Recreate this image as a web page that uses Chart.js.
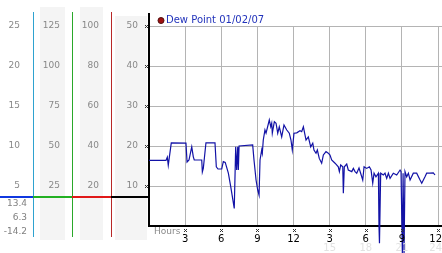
<!DOCTYPE html>
<html lang="en">
<head>
  <meta charset="UTF-8">
  <title>Dew Point</title>
  <script src="https://cdn.jsdelivr.net/npm/chart.js"></script>
  <style>
    html, body { margin: 0; padding: 0; background: #fff; }
  </style>
</head>
<body>

<canvas id="dewChart" width="442" height="253"></canvas>

<script>
  // hour of the day for each reading, and the dew point at that time
  const hours = [0, 1.41, 1.52, 1.60, 1.85, 3.07, 3.16, 3.32, 3.55, 3.68, 3.76, 4.38, 4.43, 4.51, 4.73,
    5.48, 5.59, 5.73, 6.04, 6.17, 6.33, 6.59, 6.79, 7.08, 7.20, 7.28, 7.37, 7.42, 7.48, 8.61, 8.72,
    8.89, 9.03, 9.14, 9.22, 9.36, 9.41, 9.49, 9.63, 9.72, 9.99, 10.11, 10.19, 10.24, 10.41, 10.55,
    10.69, 10.82, 11.02, 11.21, 11.44, 11.65, 11.79, 11.90, 12.04, 12.27, 12.54, 12.68, 12.82, 13.04,
    13.23, 13.43, 13.60, 13.70, 13.87, 13.98, 14.14, 14.34, 14.48, 14.70, 14.89, 15.03, 15.17, 15.45,
    15.72, 15.81, 15.92, 16.09, 16.14, 16.22, 16.42, 16.55, 16.84, 16.97, 17.11, 17.25, 17.44, 17.75,
    17.86, 18.08, 18.30, 18.44, 18.58, 18.69, 18.85, 19.05, 19.10, 19.14, 19.24, 19.46, 19.60, 19.74,
    19.88, 20.02, 20.29, 20.57, 20.85, 20.93, 21.04, 21.10, 21.14, 21.18, 21.26, 21.40, 21.54, 21.68,
    21.95, 22.23, 22.51, 22.65, 22.92, 23.06, 23.34, 23.61, 23.75];
  const dewPoint = [16.4, 16.4, 17.2, 15.2, 20.8, 20.7, 16.0, 16.5, 19.8, 17.3, 16.5, 16.5, 13.5, 14.4, 20.8,
    20.8, 14.8, 14.25, 14.25, 16.1, 15.9, 13.2, 9.8, 4.4, 19.8, 14.0, 19.8, 14.0, 20.0, 20.25, 16.5,
    11.5, 9.0, 7.75, 16.5, 19.0, 18.2, 21.5, 24.0, 23.2, 26.5, 24.8, 25.7, 23.2, 26.1, 25.7,
    23.2, 24.8, 22.3, 25.25, 24.0, 23.2, 21.5, 19.0, 23.2, 23.3, 23.8, 23.6, 24.8, 21.5,
    22.3, 19.8, 20.7, 19.0, 18.2, 19.0, 16.9, 15.7, 17.75, 18.6, 18.2, 17.75, 16.5, 15.7,
    14.8, 13.6, 15.25, 14.8, 8.2, 14.8, 15.5, 14.0, 13.6, 14.4, 13.6, 13.2, 14.5, 11.5,
    14.8, 14.4, 14.8, 14.0, 10.7, 13.2, 12.3, 13.2, -0.2, -4.3, 13.2, 12.75, 13.2, 11.9,
    13.2, 11.9, 13.2, 12.75, 14.0, 13.6, -6.8, 13.2, 13.2, -6.8, 13.6, 12.3, 13.2, 11.5,
    13.2, 13.2, 11.5, 10.7, 12.3, 13.2, 13.2, 13.3, 12.75];

  const seriesLabel = 'Dew Point 01/02/07';
  const hour24Labels = { 15: '15', 18: '18', 21: '21', 24: '24' };
  const statLabels = ['13.4', '6.3', '-14.2'];
  const levelValue = 7.25;

  Chart.defaults.font.family = 'DejaVu Sans';

  const tickFont = { family: 'DejaVu Sans', size: 9 };
  const gridColor = '#b4b4b4';

  function hideZero(v) { return v === 0 ? '' : v; }
  function hour12(v) { return String((v - 1) % 12 + 1); }

  // draw a tiny "x" marker like the original tick glyphs
  function marker(ctx, x, y) {
    ctx.fillStyle = '#333';
    ctx.fillRect(x - 1, y - 1, 1, 1);
    ctx.fillRect(x + 1, y - 1, 1, 1);
    ctx.fillRect(x, y, 1, 1);
    ctx.fillRect(x - 1, y + 1, 1, 1);
    ctx.fillRect(x + 1, y + 1, 1, 1);
  }

  const decor = {
    id: 'decor',
    beforeDraw(chart) {
      const ctx = chart.ctx;
      const s = chart.scales;
      ctx.save();
      ctx.fillStyle = '#fff';
      ctx.fillRect(0, 0, chart.width, chart.height);
      // light grey label columns
      ctx.fillStyle = '#f4f4f4';
      ctx.fillRect(s.yK.left + 7, 7, s.yK.width - 14, 233);
      ctx.fillRect(s.yF.left + 8, 7, s.yF.width - 16, 233);
      ctx.fillRect(s.y.left + 4, 16, s.y.width - 6, 224);
      ctx.restore();
    },
    afterDraw(chart) {
      const ctx = chart.ctx;
      const s = chart.scales;
      const area = chart.chartArea;
      ctx.save();

      // coloured dividers between the unit columns
      ctx.lineWidth = 1;
      [[s.yC, '#2ea2d0'], [s.yK, '#2aa82a'], [s.yF, '#b82828']].forEach(([sc, col]) => {
        ctx.strokeStyle = col;
        ctx.beginPath();
        ctx.moveTo(Math.round(sc.right) + 0.5, 12);
        ctx.lineTo(Math.round(sc.right) + 0.5, 237);
        ctx.stroke();
      });

      // left axis continues above the plot
      ctx.strokeStyle = '#000';
      ctx.lineWidth = 2;
      ctx.beginPath();
      ctx.moveTo(area.left, 13);
      ctx.lineTo(area.left, area.top);
      ctx.stroke();
      // bottom axis and grid reach the edge
      ctx.beginPath();
      ctx.moveTo(area.right, area.bottom);
      ctx.lineTo(chart.width, area.bottom);
      ctx.stroke();
      ctx.strokeStyle = gridColor;
      ctx.lineWidth = 1;
      s.y.ticks.forEach(t => {
        if (t.value === 0) return;
        const py = Math.round(s.y.getPixelForValue(t.value)) + 0.5;
        ctx.beginPath();
        ctx.moveTo(area.right, py);
        ctx.lineTo(chart.width, py);
        ctx.stroke();
      });

      // level bar across the columns
      const ly = Math.round(s.y.getPixelForValue(levelValue));
      [[0, s.yC.right, '#1038e0'], [s.yC.right, s.yK.right, '#22b022'],
       [s.yK.right, s.yF.right, '#e01818'], [s.yF.right, area.left, '#000']].forEach(([a, b, col]) => {
        ctx.fillStyle = col;
        ctx.fillRect(a, ly - 1, b - a, 2);
      });

      // stats under the first column
      ctx.font = '9px "DejaVu Sans"';
      ctx.fillStyle = '#808080';
      ctx.textAlign = 'right';
      ctx.textBaseline = 'middle';
      [204, 218, 232].forEach((py, i) => ctx.fillText(statLabels[i], s.yC.right - 6, py));

      // tick glyphs
      s.y.ticks.forEach(t => {
        if (t.value > 0) marker(ctx, Math.round(area.left) - 3, Math.round(s.y.getPixelForValue(t.value)));
      });
      s.x.ticks.forEach(t => {
        if (t.value > 0) marker(ctx, Math.round(s.x.getPixelForValue(t.value)), area.bottom + 4);
      });

      // "Hours" caption
      ctx.textAlign = 'left';
      ctx.fillStyle = '#8a8a8a';
      ctx.fillText('Hours', area.left + 5, 232);

      // hour labels (12h in black, faint 24h below), kept inside the canvas
      ctx.font = '10px "DejaVu Sans"';
      ctx.textAlign = 'center';
      s.x.ticks.forEach(t => {
        if (t.value === 0) return;
        const lab = hour12(t.value);
        const w = ctx.measureText(lab).width;
        const px = Math.min(s.x.getPixelForValue(t.value), chart.width - w / 2);
        ctx.fillStyle = '#000';
        ctx.fillText(lab, px, 239);
        const lab24 = hour24Labels[t.value];
        if (lab24) {
          const w24 = ctx.measureText(lab24).width;
          ctx.fillStyle = '#e2e2e2';
          ctx.fillText(lab24, Math.min(s.x.getPixelForValue(t.value), chart.width - w24 / 2), 248);
        }
      });

      // legend
      ctx.fillStyle = '#a01010';
      ctx.strokeStyle = '#501010';
      ctx.lineWidth = 1;
      ctx.beginPath();
      ctx.arc(161, 20.5, 3, 0, Math.PI * 2);
      ctx.fill();
      ctx.stroke();
      ctx.fillStyle = '#2233bb';
      ctx.textAlign = 'left';
      ctx.fillText(chart.data.datasets[0].label, 166, 20);
      ctx.restore();
    }
  };

  const ctx = document.getElementById('dewChart').getContext('2d');
  const dewChart = new Chart(ctx, {
    type: 'line',
    data: {
      datasets: [{
        label: seriesLabel,
        data: hours.map((h, i) => ({ x: h, y: dewPoint[i] })),
        borderColor: '#1212a6',
        borderWidth: 1.2,
        pointRadius: 0,
        tension: 0,
        fill: false,
        clip: false
      }]
    },
    options: {
      responsive: false,
      animation: false,
      layout: { padding: { left: 0, top: 26, right: 4, bottom: 0 } },
      plugins: { legend: { display: false }, tooltip: { enabled: false } },
      scales: {
        x: {
          type: 'linear', min: 0, max: 24, position: 'bottom',
          ticks: { stepSize: 3, display: false },
          grid: { color: gridColor, drawTicks: false },
          border: { color: '#000', width: 2 },
          afterFit: sc => { sc.height = 27; sc.paddingLeft = 0; sc.paddingRight = 0; }
        },
        y: {
          min: 0, max: 50, position: 'left', weight: 1,
          ticks: { stepSize: 10, padding: 11, color: '#888', font: tickFont, callback: hideZero },
          grid: { color: gridColor, drawTicks: false },
          border: { color: '#000', width: 2 },
          afterFit: sc => { sc.width = 38; }
        },
        yF: {
          min: 0, max: 100, position: 'left', weight: 2,
          ticks: { stepSize: 20, padding: 12, color: '#888', font: tickFont, callback: hideZero },
          grid: { display: false, drawTicks: false },
          border: { display: false },
          afterFit: sc => { sc.width = 39; }
        },
        yK: {
          min: 0, max: 125, position: 'left', weight: 3,
          ticks: { stepSize: 25, padding: 12, color: '#888', font: tickFont, callback: hideZero },
          grid: { display: false, drawTicks: false },
          border: { display: false },
          afterFit: sc => { sc.width = 39; }
        },
        yC: {
          min: 0, max: 25, position: 'left', weight: 4,
          ticks: { stepSize: 5, padding: 13, color: '#888', font: tickFont, callback: hideZero },
          grid: { display: false, drawTicks: false },
          border: { display: false },
          afterFit: sc => { sc.width = 33; }
        }
      }
    },
    plugins: [decor]
  });
</script>

</body>
</html>
